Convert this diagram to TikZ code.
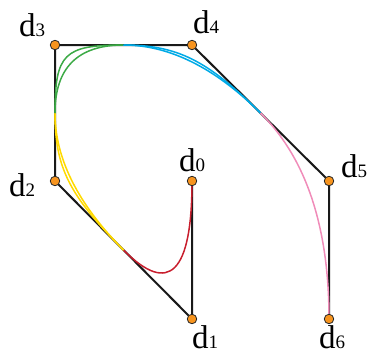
\documentclass[tikz,border=0pt]{standalone}
\usepackage{fontspec}
\setmainfont{Liberation Serif}
\usetikzlibrary{calc}

\definecolor{ptorange}{RGB}{247,148,30}
\definecolor{segred}{RGB}{200,30,45}
\definecolor{segyellow}{RGB}{255,218,0}
\definecolor{seggreen}{RGB}{60,170,70}
\definecolor{segblue}{RGB}{0,170,230}
\definecolor{segpink}{RGB}{240,140,185}

\tikzset{
  pt/.style={circle, draw=black!85, fill=ptorange, line width=0.8pt,
    inner sep=0pt, minimum size=9.5pt},
  poly/.style={line width=2pt, black!90, line join=round},
  seg/.style={line width=1.5pt},
  lbl/.style={font=\fontsize{33}{33}\selectfont, inner sep=0pt, anchor=base west},
}
% one curve piece: start, corner, end, pull towards the corner
\newcommand{\bseg}[5]{%
  \draw[seg,#1] (#2) .. controls ($(#2)!#5!(#3)$) and ($(#4)!#5!(#3)$) .. (#4);}
\newcommand{\dlab}[1]{d{\fontsize{19}{19}\selectfont #1}}

\begin{document}
\begin{tikzpicture}[x=1pt,y=-1pt]
  \useasboundingbox (0,0) rectangle (369,356);

  % control points
  \coordinate (d0) at (192,181);
  \coordinate (d1) at (192,319);
  \coordinate (d2) at (55,181);
  \coordinate (d3) at (55,45);
  \coordinate (d4) at (192,45);
  \coordinate (d5) at (329,181);
  \coordinate (d6) at (329,319);

  % midpoints of the legs
  \coordinate (m12) at ($(d1)!0.5!(d2)$);
  \coordinate (m23) at ($(d2)!0.5!(d3)$);
  \coordinate (m34) at ($(d3)!0.5!(d4)$);
  \coordinate (m45) at ($(d4)!0.5!(d5)$);

  % control polygon
  \draw[poly] (d0) -- (d1) -- (d2) -- (d3) -- (d4) -- (d5) -- (d6);

  % curve pieces
  \bseg{segred}{d0}{d1}{m12}{0.667}
  \bseg{segyellow}{m12}{d2}{m23}{0.667}
  \bseg{segyellow}{m12}{d2}{m23}{0.8}
  \bseg{seggreen}{m23}{d3}{m34}{0.667}
  \bseg{seggreen}{m23}{d3}{m34}{0.87}
  \bseg{segblue}{m34}{d4}{m45}{0.667}
  \bseg{segblue}{m34}{d4}{m45}{0.78}
  \bseg{segpink}{m45}{d5}{d6}{0.667}

  % points
  \foreach \i in {0,...,6} {
    \node[pt] (p\i) at (d\i) {};
  }

  % labels
  \node[lbl] (l0) at (179,171) {\dlab{0}};
  \node[lbl] (l1) at (192,348) {\dlab{1}};
  \node[lbl] (l2) at (9,196) {\dlab{2}};
  \node[lbl] (l3) at (19,36) {\dlab{3}};
  \node[lbl] (l4) at (193,33) {\dlab{4}};
  \node[lbl] (l5) at (341,177) {\dlab{5}};
  \node[lbl] (l6) at (319,348) {\dlab{6}};
\end{tikzpicture}
\end{document}
